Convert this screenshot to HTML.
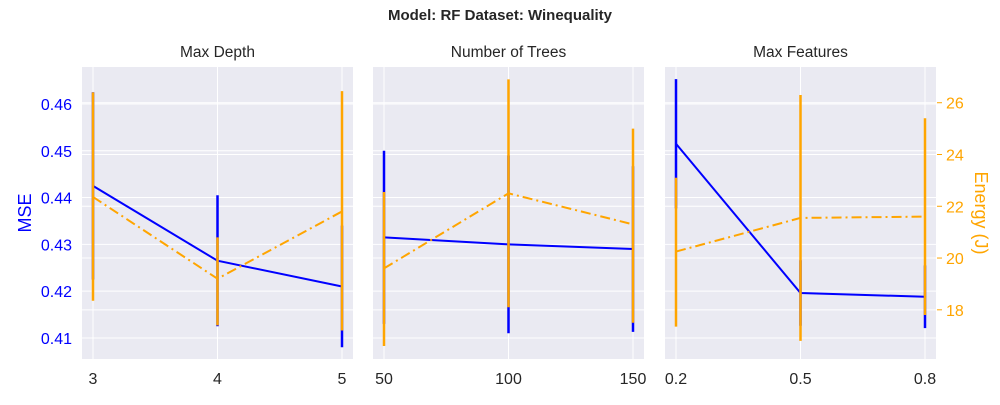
<!DOCTYPE html>
<html><head><meta charset="utf-8"><style>
body{margin:0;background:#fff;width:1000px;height:400px;overflow:hidden;font-family:"Liberation Sans",Arial,sans-serif}
svg text{font-family:"Liberation Sans",Arial,sans-serif}
</style></head><body>
<svg id="chart" width="1000" height="400" xmlns="http://www.w3.org/2000/svg"></svg>
<script>
const panelTitles = ["Max Depth", "Number of Trees", "Max Features"];
const xTickLabels = [["3","4","5"],["50","100","150"],["0.2","0.5","0.8"]];
const mseValues = [[0.4425,0.4265,0.421],[0.4315,0.430,0.429],[0.4515,0.4196,0.4188]];
const mseErr = [[0.020,0.014,0.013],[0.0185,0.019,0.0177],[0.0138,0.007,0.0067]];
const energyValues = [[22.36,19.2,21.8],[19.6,22.5,21.3],[20.25,21.55,21.6]];
const energyLow = [[18.35,17.4,17.2],[16.6,18.1,17.5],[17.35,16.8,17.8]];
const energyHigh = [[26.4,20.8,26.45],[22.55,26.9,25.0],[23.1,26.3,25.4]];
const mseTicks = [0.41,0.42,0.43,0.44,0.45,0.46];
const energyTicks = [18,20,22,24,26];

const NS="http://www.w3.org/2000/svg";
const svg=document.getElementById('chart');
function mk(tag,attrs,parent){const e=document.createElementNS(NS,tag);for(const k in attrs)e.setAttribute(k,attrs[k]);(parent||svg).appendChild(e);return e;}
const plotTop=67,plotBot=359;
const mseMin=0.4055,mseMax=0.4679,eMin=16.1,eMax=27.38;
const yM=v=>plotBot-(v-mseMin)/(mseMax-mseMin)*(plotBot-plotTop);
const yE=v=>plotBot-(v-eMin)/(eMax-eMin)*(plotBot-plotTop);
const panelsX=[82,373,665], pw=271;

let t=mk('text',{x:500,y:20,'text-anchor':'middle','font-size':15,'font-weight':'bold',fill:'#262626'});


t.textContent='Model: RF Dataset: Winequality';

panelsX.forEach((px,p)=>{
  const g=mk('g',{});
  
  
  const bg=mk('rect',{x:px,y:plotTop,width:pw,height:plotBot-plotTop,fill:'#eaeaf2'},g);
  
  
  const xs=i=>px+11+i*(pw-22)/2;
  mseTicks.forEach(v=>{const l=mk('line',{x1:px,x2:px+pw,y1:yM(v),y2:yM(v),stroke:'#fff','stroke-width':1},g);
    
    });
  energyTicks.forEach(v=>{const l=mk('line',{x1:px,x2:px+pw,y1:yE(v),y2:yE(v),stroke:'#fff','stroke-width':1},g);
    
    });
  xTickLabels[p].forEach((lab,i)=>{
    const l=mk('line',{x1:xs(i),x2:xs(i),y1:plotTop,y2:plotBot,stroke:'#fff','stroke-width':1},g);
    
    
    const tx=mk('text',{x:xs(i),y:384,'text-anchor':'middle','font-size':16,fill:'#262626'},g);
    
    
    tx.textContent=lab;
  });
  const tt=mk('text',{x:px+pw/2,y:57,'text-anchor':'middle','font-size':15.5,fill:'#262626'},g);
  
  
  tt.textContent=panelTitles[p];
  mseValues[p].forEach((v,i)=>{
    const e=mk('line',{x1:xs(i),x2:xs(i),y1:yM(v-mseErr[p][i]),y2:yM(v+mseErr[p][i]),stroke:'#0000ff','stroke-width':2.5},g);
    
    
  });
  const ml=mk('polyline',{points:mseValues[p].map((v,i)=>xs(i)+','+yM(v)).join(' '),fill:'none',stroke:'#0000ff','stroke-width':2},g);
  
  
  energyValues[p].forEach((v,i)=>{
    const e=mk('line',{x1:xs(i),x2:xs(i),y1:yE(energyLow[p][i]),y2:yE(energyHigh[p][i]),stroke:'#ffa500','stroke-width':2.5},g);
    
    
  });
  const el=mk('polyline',{points:energyValues[p].map((v,i)=>xs(i)+','+yE(v)).join(' '),fill:'none',stroke:'#ffa500','stroke-width':2,'stroke-dasharray':'10 4 2 4'},g);
  
  
});
mseTicks.forEach(v=>{
  const tx=mk('text',{x:72,y:yM(v)+6,'text-anchor':'end','font-size':16,fill:'#0000ff'});
  
  
  tx.textContent=v.toFixed(2);
});
energyTicks.forEach(v=>{
  const l=mk('line',{x1:937,x2:942,y1:yE(v),y2:yE(v),stroke:'#ffa500','stroke-width':1});
  
  
  const tx=mk('text',{x:946,y:yE(v)+6,'font-size':16,fill:'#ffa500'});
  
  
  tx.textContent=v;
});
let yl=mk('text',{x:31,y:213,'text-anchor':'middle','font-size':18,fill:'#0000ff',transform:'rotate(-90 31 213)'});


yl.textContent='MSE';
let yr=mk('text',{x:975,y:213,'text-anchor':'middle','font-size':18,fill:'#ffa500',transform:'rotate(90 975 213)'});


yr.textContent='Energy (J)';
</script>
</body></html>
